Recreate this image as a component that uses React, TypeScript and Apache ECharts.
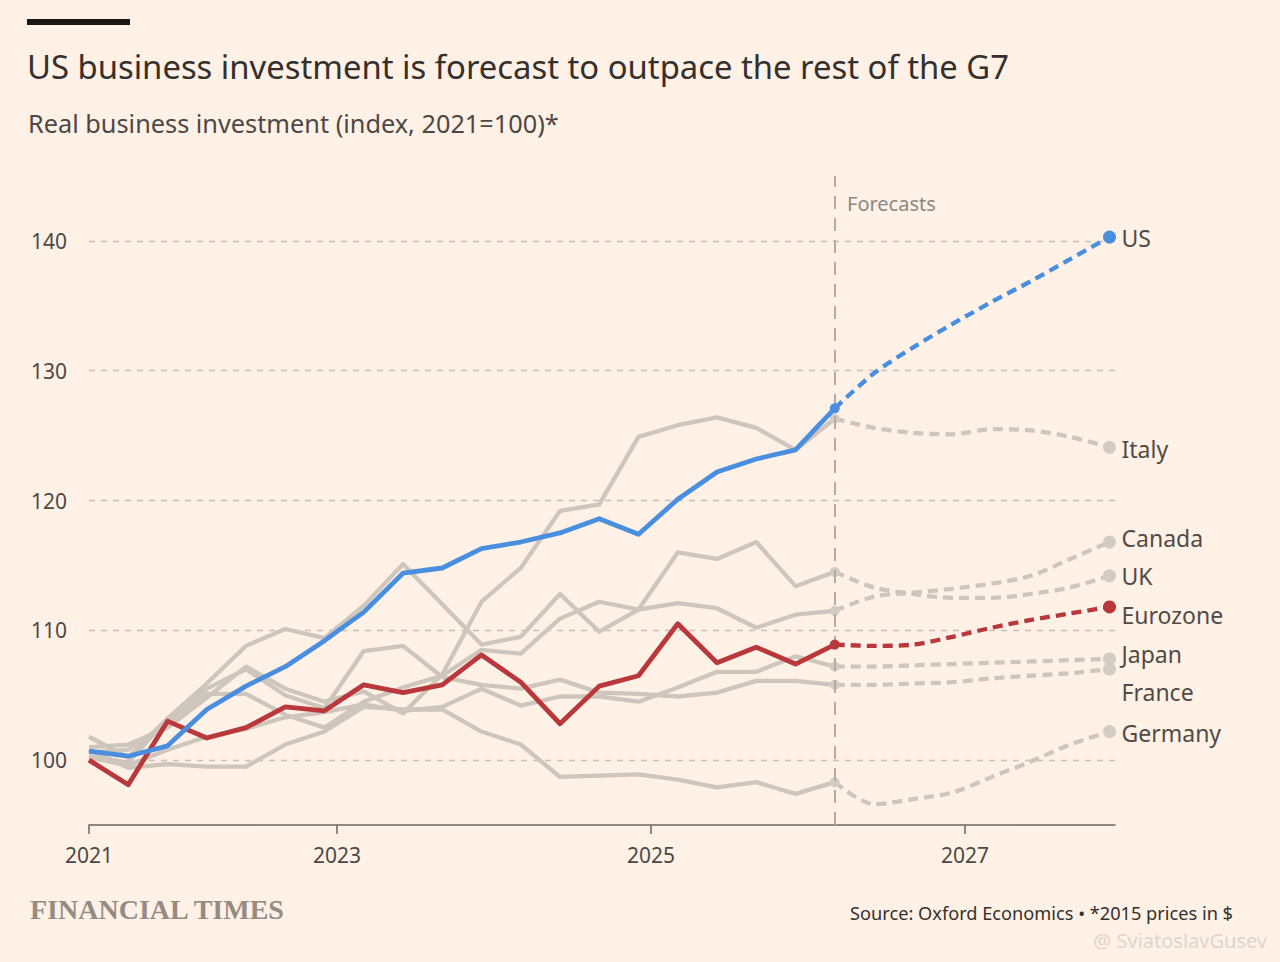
import React, { useEffect, useRef } from "react";
import * as echarts from "echarts";

// quarterly index values, first point = 2021 tick, last actual point = start of forecasts
const usActual = [100.7, 100.3, 101.1, 103.9, 105.7, 107.2, 109.2, 111.4, 114.4, 114.8, 116.3, 116.8, 117.5, 118.6, 117.4, 120.1, 122.2, 123.2, 123.9, 127.1];
const ezActual = [100.0, 98.1, 103.0, 101.7, 102.5, 104.1, 103.8, 105.8, 105.2, 105.8, 108.1, 106.0, 102.8, 105.7, 106.5, 110.5, 107.5, 108.7, 107.4, 108.9];
const italyActual = [101.0, 101.2, 102.5, 104.8, 107.2, 105.5, 104.5, 105.3, 103.6, 106.6, 112.2, 114.8, 119.2, 119.7, 124.9, 125.8, 126.4, 125.6, 123.9, 126.3];
const ukActual = [101.8, 100.2, 103.2, 105.9, 108.8, 110.1, 109.4, 111.9, 115.1, 112.0, 108.9, 109.5, 112.8, 109.9, 111.6, 116.0, 115.5, 116.8, 113.4, 114.5];
const canadaActual = [100.6, 100.8, 102.9, 105.1, 105.1, 103.5, 102.5, 104.5, 105.6, 106.5, 108.5, 108.2, 110.9, 112.2, 111.6, 112.1, 111.7, 110.2, 111.2, 111.5];
const japanActual = [100.2, 99.6, 100.8, 101.8, 102.4, 103.3, 103.7, 104.3, 103.8, 104.1, 105.5, 104.2, 104.9, 104.9, 104.5, 105.6, 106.8, 106.8, 108.0, 107.2];
const franceActual = [100.3, 99.8, 103.2, 105.5, 107.0, 105.0, 104.0, 108.4, 108.8, 106.4, 105.8, 105.5, 106.2, 105.2, 105.1, 104.9, 105.2, 106.1, 106.1, 105.8];
const germanyActual = [100.8, 99.4, 99.7, 99.5, 99.5, 101.2, 102.2, 104.1, 103.9, 103.9, 102.2, 101.2, 98.7, 98.8, 98.9, 98.5, 97.9, 98.3, 97.4, 98.3];

// forecasts start at the last actual quarter
const usForecast = [127.1, 129.8, 131.8, 133.6, 135.3, 136.9, 138.6, 140.3];
const ezForecast = [108.9, 108.8, 108.9, 109.5, 110.2, 110.8, 111.3, 111.8];
const italyForecast = [126.3, 125.6, 125.2, 125.1, 125.5, 125.4, 124.9, 124.1];
const ukForecast = [114.5, 113.3, 112.8, 112.5, 112.5, 112.8, 113.3, 114.2];
const canadaForecast = [111.5, 112.6, 112.9, 113.2, 113.6, 114.2, 115.5, 116.8];
const japanForecast = [107.2, 107.2, 107.3, 107.4, 107.5, 107.6, 107.7, 107.8];
const franceForecast = [105.8, 105.8, 105.9, 106.0, 106.3, 106.5, 106.7, 107.0];
const germanyForecast = [98.3, 96.6, 97.0, 97.5, 98.7, 99.9, 101.2, 102.2];

const yearLabels = ["2021", "2023", "2025", "2027"];
const yearTicks = [0, 6.32, 14.32, 22.32]; // in quarters from first point
const yTicks = [100, 110, 120, 130, 140];

const BG = "#fff1e5";
const GREY = "#cec6bc";
const BLUE = "#4a8ee0";
const RED = "#b8383b";
const LABEL = "#514b47";
const FONT = "'Noto Sans', 'Open Sans', sans-serif";

const App = () => {
  const chartRef = useRef(null);

  useEffect(() => {
    document.body.style.margin = "0";
    document.body.style.background = BG;
    const chart = echarts.init(chartRef.current, null, { renderer: "svg" });

    const start = usActual.length - 1;

    const countries = [
      { name: "Italy", actual: italyActual, forecast: italyForecast, color: GREY, dy: 2 },
      { name: "Canada", actual: canadaActual, forecast: canadaForecast, color: GREY, dy: -4 },
      { name: "UK", actual: ukActual, forecast: ukForecast, color: GREY, dy: 0 },
      { name: "Japan", actual: japanActual, forecast: japanForecast, color: GREY, dy: -5 },
      { name: "France", actual: franceActual, forecast: franceForecast, color: GREY, dy: 23 },
      { name: "Germany", actual: germanyActual, forecast: germanyForecast, color: GREY, dy: 1 },
      { name: "Eurozone", actual: ezActual, forecast: ezForecast, color: RED, dy: 8 },
      { name: "US", actual: usActual, forecast: usForecast, color: BLUE, dy: 1 },
    ];

    const series: any[] = [];
    countries.forEach((c, idx) => {
      const highlight = c.color !== GREY;
      const actual: any = {
        name: c.name,
        type: "line",
        data: c.actual.map((v, i) => [i, v]),
        symbol: "none",
        lineStyle: { color: c.color, width: highlight ? 4.8 : 4.3, join: "round" },
        z: highlight ? 5 : 2,
        silent: true,
      };
      if (idx === 0) {
        actual.markLine = {
          silent: true,
          symbol: "none",
          label: { show: false },
          lineStyle: { color: "#c9c0b6", type: [6, 6], width: 1.3 },
          data: yTicks.map((v) => ({ yAxis: v })),
          z: 1,
        };
      }
      if (c.name === "US") {
        actual.markLine = {
          silent: true,
          symbol: "none",
          label: { show: false },
          lineStyle: { color: "#b3aca5", type: [13, 9], width: 2 },
          data: [{ xAxis: start }],
        };
      }
      series.push(actual);

      const last = c.forecast.length - 1;
      series.push({
        name: c.name + " forecast",
        type: "line",
        smooth: 0.3,
        data: c.forecast.map((v, k) => ({
          value: [start + k, v],
          symbol: k === 0 || k === last ? "circle" : "none",
          symbolSize: k === last ? 13 : 10,
          itemStyle: { color: highlight ? c.color : "#d3ccc3" },
        })),
        showSymbol: true,
        lineStyle: { color: c.color, width: 4.3, type: [10, 6] },
        z: highlight ? 6 : 3,
        silent: true,
        endLabel: {
          show: true,
          formatter: c.name,
          color: LABEL,
          fontFamily: FONT,
          fontSize: 23,
          distance: 12,
          offset: [0, c.dy],
        },
        labelLayout: { hideOverlap: false },
      });
    });

    const option = {
      animation: false,
      backgroundColor: BG,
      title: [
        {
          text: "US business investment is forecast to outpace the rest of the G7",
          left: 22,
          top: 45,
          textStyle: { fontFamily: FONT, fontSize: 32.8, fontWeight: "normal", color: "#33302e" },
        },
        {
          text: "Real business investment (index, 2021=100)*",
          left: 23,
          top: 105,
          textStyle: { fontFamily: FONT, fontSize: 25.3, fontWeight: "normal", color: "#4d4845" },
        },
        {
          text: "FINANCIAL TIMES",
          left: 25,
          top: 890,
          textStyle: {
            fontFamily: "'Liberation Serif', 'DejaVu Serif', serif",
            fontSize: 28,
            fontWeight: "bold",
            color: "#948b84",
          },
        },
        {
          text: "Source: Oxford Economics \u2022 *2015 prices in $",
          right: 42,
          top: 899,
          textStyle: { fontFamily: FONT, fontSize: 18.2, fontWeight: "normal", color: "#33302e" },
        },
        {
          text: "@ SviatoslavGusev",
          right: 8,
          top: 925,
          textStyle: { fontFamily: FONT, fontSize: 20, fontWeight: "normal", color: "#ddd5cd" },
        },
      ],
      graphic: [
        { type: "rect", left: 27, top: 19, shape: { width: 103, height: 6 }, style: { fill: "#1a1817" } },
        {
          type: "text",
          left: 847,
          top: 193,
          style: { text: "Forecasts", fontFamily: FONT, fontSize: 20, fill: "#8e8782" },
        },
      ],
      grid: { left: 89, right: 165, top: 176, bottom: 137 },
      xAxis: {
        type: "value",
        min: 0,
        max: 26.14,
        axisLine: { show: true, lineStyle: { color: "#6b6460", width: 1.5 } },
        axisTick: { show: true, customValues: yearTicks, length: 9, lineStyle: { color: "#6b6460", width: 1.5 } },
        axisLabel: {
          customValues: yearTicks,
          formatter: (v: number) => {
            const i = yearTicks.findIndex((t) => Math.abs(t - v) < 0.01);
            return i >= 0 ? yearLabels[i] : "";
          },
          fontFamily: FONT,
          fontSize: 21,
          color: "#4d4845",
          margin: 19,
        },
        splitLine: { show: false },
      },
      yAxis: {
        type: "value",
        min: 95,
        max: 145,
        axisLine: { show: false },
        axisTick: { show: false },
        axisLabel: {
          customValues: yTicks,
          fontFamily: FONT,
          fontSize: 21,
          color: "#4d4845",
          margin: 22,
          align: "right",
        },
        splitLine: { show: false },
      },
      series,
    };

    chart.setOption(option);

    return () => {
      chart.dispose();
    };
  }, []);

  return <div ref={chartRef} style={{ width: "1280px", height: "962px" }}></div>;
};

export default App;
